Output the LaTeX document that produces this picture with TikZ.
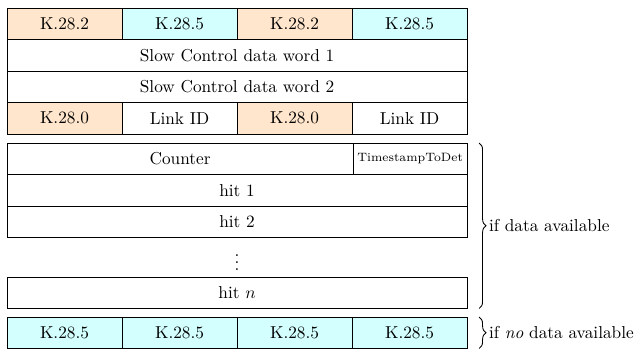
\documentclass[tikz,border=0pt]{standalone}
\usepackage{amsmath}
\usetikzlibrary{positioning,calc,decorations.pathreplacing}
\definecolor{korange}{RGB}{255,230,204}
\definecolor{kcyan}{RGB}{212,255,255}

\begin{document}
\begin{tikzpicture}[x=0.579pt,y=-0.579pt,line width=0.5pt,
  cell/.style={draw,minimum width=66.6pt,minimum height=18.24pt,inner sep=0pt,
    outer sep=0pt,anchor=north west},
  wide/.style={cell,minimum width=266.4pt},
  kor/.style={cell,fill=korange},
  kcy/.style={cell,fill=kcyan},
  brc/.style={decorate,decoration={brace,amplitude=4pt}},
  note/.style={right=4.5pt,inner sep=1pt}
]
  \useasboundingbox (0,0) rectangle (644,348);
  % header words
  \node[kor] (h1) at (7,8) {K.28.2};
  \node[kcy,right=0pt of h1.north east,anchor=north west] (h2) {K.28.5};
  \node[kor,right=0pt of h2.north east,anchor=north west] (h3) {K.28.2};
  \node[kcy,right=0pt of h3.north east,anchor=north west] (h4) {K.28.5};
  \node[wide] (sc1) at (h1.south west) {Slow Control data word 1};
  \node[wide] (sc2) at (sc1.south west) {Slow Control data word 2};
  \node[kor] (l1) at (sc2.south west) {K.28.0};
  \node[cell,right=0pt of l1.north east,anchor=north west] (l2) {Link ID};
  \node[kor,right=0pt of l2.north east,anchor=north west] (l3) {K.28.0};
  \node[cell,right=0pt of l3.north east,anchor=north west] (l4) {Link ID};

  % hit block
  \node[cell,minimum width=200.4pt] (cnt) at (7,143) {Counter};
  \node[cell,minimum width=66pt,font=\scriptsize,right=0pt of cnt.north east,
    anchor=north west] (ts) {TimestampToDet};
  \node[wide] (hit1) at (cnt.south west) {hit 1};
  \node[wide] (hit2) at (hit1.south west) {hit 2};
  \node[wide] (hitn) at (7,277) {hit $n$};
  \node (dots) at ($(hit2.south)!0.5!(hitn.north)$) {$\vdots$};

  % trailer
  \node[kcy] (t1) at (7,317) {K.28.5};
  \node[kcy,right=0pt of t1.north east,anchor=north west] (t2) {K.28.5};
  \node[kcy,right=0pt of t2.north east,anchor=north west] (t3) {K.28.5};
  \node[kcy,right=0pt of t3.north east,anchor=north west] (t4) {K.28.5};

  % braces
  \coordinate (b1t) at ($(ts.north east)+(12,0)$);
  \coordinate (b1b) at ($(hitn.south east)+(12,0)$);
  \coordinate (b2t) at ($(t4.north east)+(12,0)$);
  \coordinate (b2b) at ($(t4.south east)+(12,0)$);
  \draw[brc] (b1t) -- node[note] {if data available} (b1b);
  \draw[brc] (b2t) -- node[note] {if \emph{no} data available} (b2b);
\end{tikzpicture}
\end{document}
